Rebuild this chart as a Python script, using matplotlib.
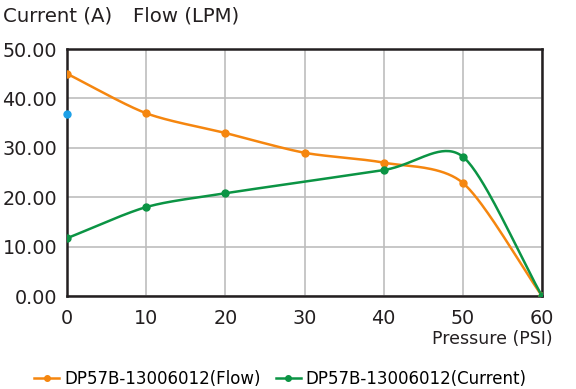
import numpy as np
import matplotlib
matplotlib.use("Agg")
import matplotlib.pyplot as plt

pressure_flow = [0, 10, 20, 30, 40, 50, 60]
flow = [45.0, 37.0, 33.0, 29.0, 27.0, 22.9, 0.0]
pressure_current = [0, 10, 20, 40, 50, 60]
current = [11.7, 18.0, 20.8, 25.5, 28.2, 0.0]
extra_x = [0]
extra_y = [36.8]
yticks = [0, 10, 20, 30, 40, 50]
xticks = [0, 10, 20, 30, 40, 50, 60]


def cardinal(xs, ys, k=0.8, n=40):
    # hermite spline with scaled catmull-rom tangents
    p = np.column_stack([xs, ys]).astype(float)
    m = np.zeros_like(p)
    m[1:-1] = (p[2:] - p[:-2]) / 2 * k
    m[0] = (p[1] - p[0]) * k
    m[-1] = (p[-1] - p[-2]) * k
    t = np.linspace(0, 1, n)[:, None]
    h00 = 2 * t ** 3 - 3 * t ** 2 + 1
    h10 = t ** 3 - 2 * t ** 2 + t
    h01 = -2 * t ** 3 + 3 * t ** 2
    h11 = t ** 3 - t ** 2
    out = []
    for i in range(len(p) - 1):
        seg = h00 * p[i] + h10 * m[i] + h01 * p[i + 1] + h11 * m[i + 1]
        out.append(seg if i == 0 else seg[1:])
    s = np.vstack(out)
    return s[:, 0], s[:, 1]


orange = "#f5860f"
green = "#0b9444"

fig = plt.figure(figsize=(5.76, 3.89), dpi=100)
ax = fig.add_axes([0.1163, 0.239, 0.8247, 0.635])

fx, fy = cardinal(pressure_flow, flow)
cx, cy = cardinal(pressure_current, current)
ax.plot(fx, fy, color=orange, lw=1.8, zorder=3)
ax.plot(cx, cy, color=green, lw=1.8, zorder=3)
ax.plot(pressure_flow, flow, 'o', color=orange, ms=5, zorder=4)
ax.plot(pressure_current, current, 'o', color=green, ms=5, zorder=4)
ax.plot(extra_x, extra_y, 'o', color="#1ca0e8", ms=5, zorder=4, clip_on=False)

# legend handles
l1, = ax.plot([], [], '-o', color=orange, ms=4, lw=1.8, label="DP57B-13006012(Flow)")
l2, = ax.plot([], [], '-o', color=green, ms=4, lw=1.8, label="DP57B-13006012(Current)")

ax.set_xlim(0, 60)
ax.set_ylim(0, 50)
ax.set_xticks(xticks)
ax.set_yticks(yticks)
ax.set_yticklabels(["%.2f" % v for v in yticks])
ax.tick_params(length=0, labelsize=13.8, colors="#231f20")
ax.tick_params(axis="x", pad=9)
ax.tick_params(axis="y", pad=7)
ax.grid(True, color="#bdbdbd", lw=1.2)
ax.set_axisbelow(True)
for s in ax.spines.values():
    s.set_color("#231f20")
    s.set_linewidth(1.8)

fig.text(0.005, 0.945, "Current (A)", fontsize=14.2, color="#231f20")
fig.text(0.231, 0.945, "Flow (LPM)", fontsize=14.2, color="#231f20")
fig.text(0.96, 0.115, "Pressure (PSI)", fontsize=12.5, color="#231f20", ha="right")

fig.legend(handles=[l1, l2], loc="lower center", bbox_to_anchor=(0.487, -0.035), ncol=2,
           frameon=False, fontsize=12, handlelength=1.5, handletextpad=0.3, columnspacing=0.9)

fig.savefig("out.png", dpi=100)
